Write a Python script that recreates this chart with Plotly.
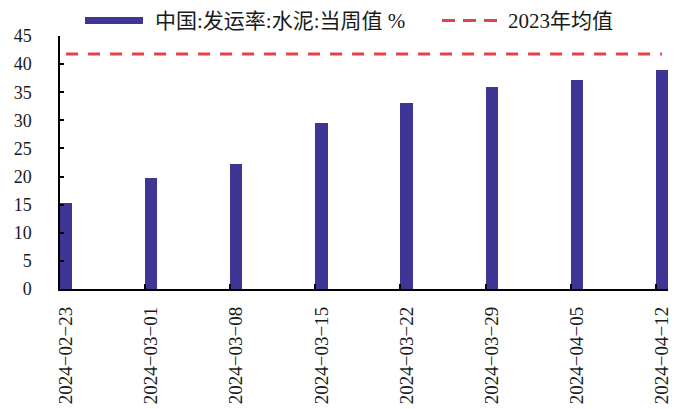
import datetime as dt
import plotly.graph_objects as go

# Weekly cement shipment rate (%), China
dates = ["2024-02-23", "2024-03-01", "2024-03-08", "2024-03-15",
         "2024-03-22", "2024-03-29", "2024-04-05", "2024-04-12"]
shipment_rate = [15.3, 19.7, 22.3, 29.5, 33.0, 35.9, 37.1, 38.9]
avg_2023 = 41.8

bar_name = "中国:发运率:水泥:当周值 %"
avg_name = "2023年均值"

BAR_COLOR = "#3F3595"
RED = "#E8404A"
W, H = 681, 409
ML, MR, MT, MB = 60, 13, 36, 120

day = dt.timedelta(days=1)
d_objs = [dt.datetime.strptime(d, "%Y-%m-%d") for d in dates]
centers = [d + day / 2 for d in d_objs]
x_range = [d_objs[0], d_objs[-1] + day]
tick_text = [d.replace("-", "\u2212") for d in dates]


def px_x(px):
    return (px - ML) / (W - ML - MR)


def px_y(py):
    return (H - MB - py) / (H - MT - MB)


fig = go.Figure()
fig.add_trace(go.Bar(
    x=d_objs, y=shipment_rate, name=bar_name,
    width=86400000, offset=0,
    marker=dict(color=BAR_COLOR, line=dict(width=0)),
    showlegend=False,
))
fig.add_trace(go.Scatter(
    x=centers, y=[avg_2023] * len(centers), name=avg_name,
    mode="lines", line=dict(color=RED, width=3, dash="12px,10px"),
    showlegend=False,
))
# empty trace so the label axis gets its own subplot
fig.add_trace(go.Scatter(x=centers, y=[None] * len(centers), xaxis="x2",
                         showlegend=False, hoverinfo="skip"))

serif = "Liberation Serif, Times New Roman, serif"
legend_font = dict(family="Liberation Serif, Noto Sans CJK SC", size=21, color="#1a1a1a")

# legend drawn by hand: swatches and labels
shapes = [
    dict(type="rect", xref="paper", yref="paper",
         x0=px_x(85), x1=px_x(143), y0=px_y(24), y1=px_y(17),
         fillcolor=BAR_COLOR, line=dict(width=0)),
    dict(type="line", xref="paper", yref="paper",
         x0=px_x(442), x1=px_x(502), y0=px_y(20.5), y1=px_y(20.5),
         line=dict(color=RED, width=3, dash="13px,8px")),
]
annotations = [
    dict(text=bar_name, xref="paper", yref="paper", x=px_x(153), y=px_y(21),
         xanchor="left", yanchor="middle", showarrow=False, font=legend_font),
    dict(text=avg_name, xref="paper", yref="paper", x=px_x(506), y=px_y(21),
         xanchor="left", yanchor="middle", showarrow=False, font=legend_font),
]

fig.update_layout(
    width=W, height=H, autosize=False,
    margin=dict(l=ML, r=MR, t=MT, b=MB),
    plot_bgcolor="white", paper_bgcolor="white",
    bargap=0,
    shapes=shapes, annotations=annotations,
    xaxis=dict(
        type="date", range=x_range, tickvals=d_objs, showticklabels=False,
        ticks="inside", ticklen=5, tickwidth=1.5, tickcolor="black",
        showline=True, linecolor="black", linewidth=2,
        showgrid=False, zeroline=False, automargin=False,
    ),
    xaxis2=dict(
        type="date", range=x_range, overlaying="x", anchor="y", side="bottom",
        tickvals=centers, ticktext=tick_text, tickangle=-90, ticks="",
        ticklabelstandoff=13,
        tickfont=dict(family=serif, size=19, color="#1a1a1a"),
        showline=False, showgrid=False, zeroline=False, automargin=False,
    ),
    yaxis=dict(
        range=[0, 45], dtick=5, tick0=0,
        ticks="inside", ticklen=4, tickwidth=1.5, tickcolor="black",
        showline=True, linecolor="black", linewidth=1.5,
        ticklabelstandoff=23,
        tickfont=dict(family=serif, size=18, color="#1a1a1a"),
        showgrid=False, zeroline=False, automargin=False,
    ),
)

fig.write_html("out.html")
